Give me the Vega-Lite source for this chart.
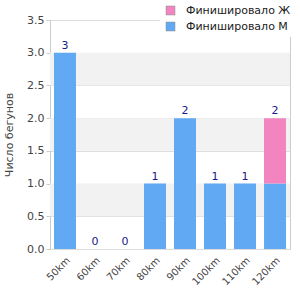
{
  "$schema": "https://vega.github.io/schema/vega-lite/v6.json",
  "width": 240,
  "height": 229,
  "autosize": "none",
  "padding": {"left": 50, "top": 20, "right": 10, "bottom": 51},
  "background": "white",
  "config": {
    "view": {"stroke": "#cccccc", "strokeWidth": 1},
    "font": "DejaVu Sans",
    "axisY": {
      "titleFontWeight": "normal", "titleFontSize": 11, "titleColor": "#444444", "titlePadding": 12,
      "labelOverlap": false, "labelFontSize": 11, "labelColor": "#444444",
      "gridColor": "#dddddd", "domain": false, "tickColor": "#cccccc", "tickSize": 4
    }
  },
  "datasets": {
    "runners": [
      {"dist": "50km", "g": "Финишировало М", "n": 3},
      {"dist": "60km", "g": "Финишировало М", "n": 0},
      {"dist": "70km", "g": "Финишировало М", "n": 0},
      {"dist": "80km", "g": "Финишировало М", "n": 1},
      {"dist": "90km", "g": "Финишировало М", "n": 2},
      {"dist": "100km", "g": "Финишировало М", "n": 1},
      {"dist": "110km", "g": "Финишировало М", "n": 1},
      {"dist": "120km", "g": "Финишировало М", "n": 1},
      {"dist": "50km", "g": "Финишировало Ж", "n": 0},
      {"dist": "60km", "g": "Финишировало Ж", "n": 0},
      {"dist": "70km", "g": "Финишировало Ж", "n": 0},
      {"dist": "80km", "g": "Финишировало Ж", "n": 0},
      {"dist": "90km", "g": "Финишировало Ж", "n": 0},
      {"dist": "100km", "g": "Финишировало Ж", "n": 0},
      {"dist": "110km", "g": "Финишировало Ж", "n": 0},
      {"dist": "120km", "g": "Финишировало Ж", "n": 1}
    ],
    "bands": [
      {"y0": 0.5, "y1": 1.0},
      {"y0": 1.5, "y1": 2.0},
      {"y0": 2.5, "y1": 3.0}
    ]
  },
  "layer": [
    {
      "data": {"name": "bands"},
      "mark": {"type": "rect", "color": "#f2f2f2"},
      "encoding": {
        "y": {
          "field": "y0", "type": "quantitative", "scale": {"domain": [0, 3.5], "nice": false},
          "axis": {"title": "Число бегунов", "values": [0, 0.5, 1, 1.5, 2, 2.5, 3, 3.5], "format": ".1f"}
        },
        "y2": {"field": "y1"}
      }
    },
    {
      "data": {"name": "runners"},
      "mark": {"type": "bar"},
      "encoding": {
        "x": {
          "field": "dist", "type": "nominal",
          "sort": ["50km","60km","70km","80km","90km","100km","110km","120km"],
          "scale": {"paddingInner": 0.267, "paddingOuter": 0.133},
          "axis": {
            "title": null, "labelAngle": -45, "ticks": false, "domain": false,
            "labelFontSize": 10, "labelColor": "#444444", "labelPadding": 6
          }
        },
        "y": {
          "field": "n", "type": "quantitative", "stack": "zero",
          "scale": {"domain": [0, 3.5], "nice": false},
          "axis": {"title": "Число бегунов", "values": [0, 0.5, 1, 1.5, 2, 2.5, 3, 3.5], "format": ".1f"}
        },
        "color": {
          "field": "g", "type": "nominal",
          "scale": {"domain": ["Финишировало Ж", "Финишировало М"], "range": ["#f285bf", "#62a9f4"]},
          "legend": {
            "title": null, "orient": "none", "legendX": 110, "legendY": -20,
            "symbolType": "square", "symbolSize": 80, "symbolStrokeColor": "#888888", "symbolStrokeWidth": 0.5,
            "labelFontSize": 11, "labelColor": "#222222",
            "fillColor": "white", "padding": 5, "rowPadding": 4, "labelOffset": 10
          }
        },
        "order": {"field": "g", "sort": "descending"}
      }
    },
    {
      "data": {"name": "runners"},
      "transform": [{"aggregate": [{"op": "sum", "field": "n", "as": "total"}], "groupby": ["dist"]}],
      "mark": {"type": "text", "dy": -7, "fontSize": 11, "color": "#1a1a8c"},
      "encoding": {
        "x": {"field": "dist", "type": "nominal", "sort": ["50km","60km","70km","80km","90km","100km","110km","120km"]},
        "y": {
          "field": "total", "type": "quantitative",
          "axis": {"title": "Число бегунов", "values": [0, 0.5, 1, 1.5, 2, 2.5, 3, 3.5], "format": ".1f"}
        },
        "text": {"field": "total", "type": "quantitative"}
      }
    }
  ]
}
